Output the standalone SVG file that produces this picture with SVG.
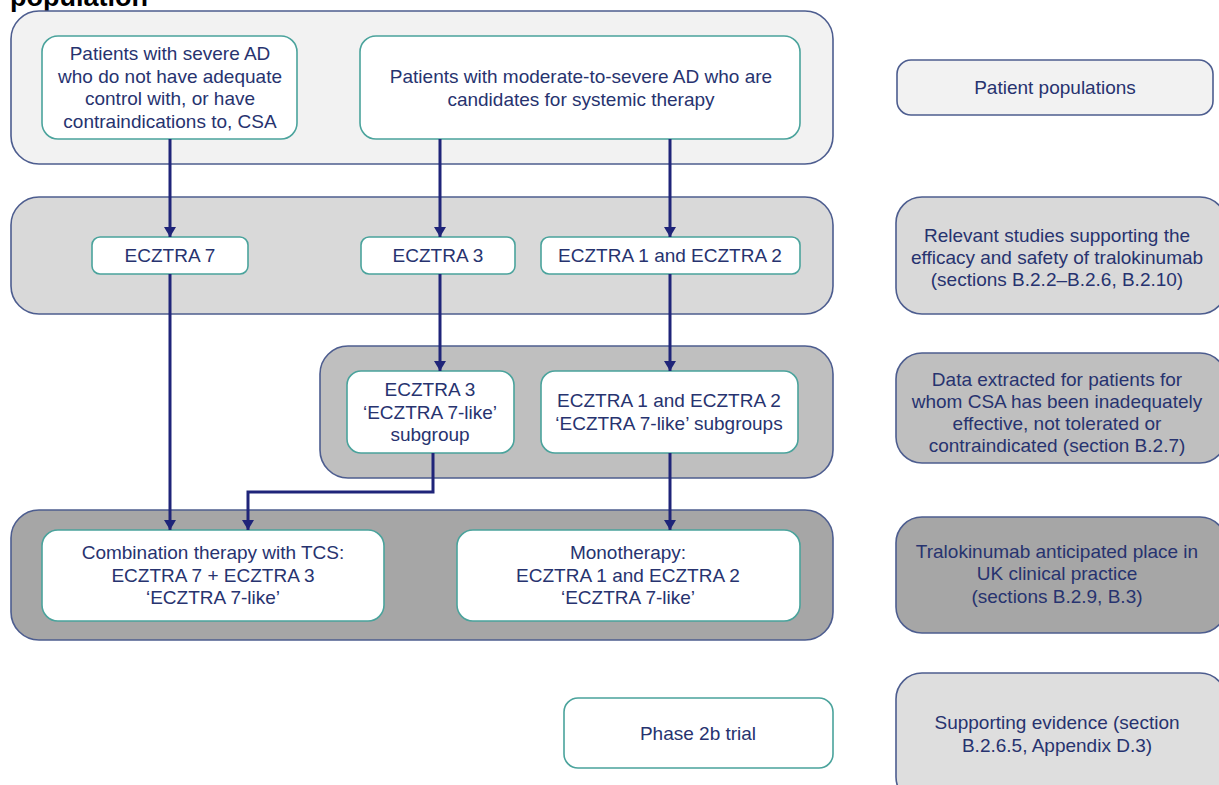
<svg xmlns="http://www.w3.org/2000/svg" width="1219" height="785" viewBox="0 0 1219 785">
<defs>
<style>
.band{stroke:#4d5d8f;stroke-width:1.6}
.b1{fill:#f2f2f2}.b2{fill:#d9d9d9}.b3{fill:#bfbfbf}.b4{fill:#a6a6a6}.b5{fill:#dedede}
.node{fill:#ffffff;stroke:#4aa39c;stroke-width:1.6}
.t{font-family:'Liberation Sans',Arial,sans-serif;font-size:19px;fill:#27336f;text-anchor:middle}
.title{font-family:'Liberation Sans',Arial,sans-serif;font-size:27px;font-weight:bold;fill:#000}
.conn{fill:none;stroke:#1f2479;stroke-width:3}
</style>
<marker id="arr" viewBox="0 0 10 12" refX="10" refY="6" markerWidth="10" markerHeight="12" markerUnits="userSpaceOnUse" orient="auto">
<path d="M0,0 L10,6 L0,12 z" fill="#1f2479"/>
</marker>
</defs>
<rect width="1219" height="785" fill="#ffffff"/>
<text class="title" x="10" y="6">population</text>

<g id="bands">
<rect id="band-populations" class="band b1" x="11" y="11" width="822" height="153" rx="28"/>
<rect id="band-studies" class="band b2" x="11" y="197" width="822" height="117" rx="28"/>
<rect id="band-extracted" class="band b3" x="320" y="346" width="513" height="132" rx="28"/>
<rect id="band-place" class="band b4" x="11" y="510" width="822" height="130" rx="28"/>
</g>

<g id="legend">
<g id="leg-populations"><rect class="band b1" x="897" y="60" width="316" height="55" rx="14"/>
<text class="t" x="1055" y="94">Patient populations</text></g>
<g id="leg-studies"><rect class="band b2" x="896" y="197" width="330" height="117" rx="26"/>
<text class="t" x="1057" y="242">Relevant studies supporting the</text>
<text class="t" x="1057" y="264">efficacy and safety of tralokinumab</text>
<text class="t" x="1057" y="286">(sections B.2.2–B.2.6, B.2.10)</text></g>
<g id="leg-extracted"><rect class="band b3" x="896" y="353" width="330" height="110" rx="26"/>
<text class="t" x="1057" y="386">Data extracted for patients for</text>
<text class="t" x="1057" y="408">whom CSA has been inadequately</text>
<text class="t" x="1057" y="430">effective, not tolerated or</text>
<text class="t" x="1057" y="452">contraindicated (section B.2.7)</text></g>
<g id="leg-place"><rect class="band b4" x="896" y="517" width="330" height="116" rx="26"/>
<text class="t" x="1057" y="558">Tralokinumab anticipated place in</text>
<text class="t" x="1057" y="580">UK clinical practice</text>
<text class="t" x="1057" y="603">(sections B.2.9, B.3)</text></g>
<g id="leg-supporting"><rect class="band b5" x="896" y="673" width="330" height="130" rx="26"/>
<text class="t" x="1057" y="729">Supporting evidence (section</text>
<text class="t" x="1057" y="752">B.2.6.5, Appendix D.3)</text></g>
</g>

<g id="pop-severe"><rect class="node" x="42" y="36" width="255" height="103" rx="16"/>
<text class="t" x="170" y="60">Patients with severe AD</text>
<text class="t" x="170" y="83">who do not have adequate</text>
<text class="t" x="170" y="105">control with, or have</text>
<text class="t" x="170" y="128">contraindications to, CSA</text></g>

<g id="pop-moderate"><rect class="node" x="360" y="36" width="440" height="103" rx="16"/>
<text class="t" x="581" y="83">Patients with moderate-to-severe AD who are</text>
<text class="t" x="581" y="106">candidates for systemic therapy</text></g>

<g id="ecztra7"><rect class="node" x="92" y="237" width="156" height="37" rx="8"/>
<text class="t" x="170" y="262">ECZTRA 7</text></g>
<g id="ecztra3"><rect class="node" x="361" y="237" width="154" height="37" rx="8"/>
<text class="t" x="438" y="262">ECZTRA 3</text></g>
<g id="ecztra12"><rect class="node" x="541" y="237" width="259" height="37" rx="8"/>
<text class="t" x="670" y="262">ECZTRA 1 and ECZTRA 2</text></g>

<g id="sub3"><rect class="node" x="347" y="371" width="167" height="82" rx="14"/>
<text class="t" x="430" y="396">ECZTRA 3</text>
<text class="t" x="430" y="419">‘ECZTRA 7-like’</text>
<text class="t" x="430" y="441">subgroup</text></g>
<g id="sub12"><rect class="node" x="541" y="371" width="257" height="82" rx="14"/>
<text class="t" x="669" y="407">ECZTRA 1 and ECZTRA 2</text>
<text class="t" x="669" y="430">‘ECZTRA 7-like’ subgroups</text></g>

<g id="combo"><rect class="node" x="42" y="530" width="342" height="91" rx="16"/>
<text class="t" x="213" y="559">Combination therapy with TCS:</text>
<text class="t" x="213" y="582">ECZTRA 7 + ECZTRA 3</text>
<text class="t" x="213" y="604">‘ECZTRA 7-like’</text></g>
<g id="mono"><rect class="node" x="457" y="530" width="343" height="91" rx="16"/>
<text class="t" x="628" y="559">Monotherapy:</text>
<text class="t" x="628" y="582">ECZTRA 1 and ECZTRA 2</text>
<text class="t" x="628" y="604">‘ECZTRA 7-like’</text></g>

<g id="phase2b"><rect class="node" x="564" y="698" width="269" height="70" rx="14"/>
<text class="t" x="698" y="740">Phase 2b trial</text></g>

<g id="connectors">
<path class="conn" marker-end="url(#arr)" d="M170,139 V237"/>
<path class="conn" marker-end="url(#arr)" d="M440,139 V237"/>
<path class="conn" marker-end="url(#arr)" d="M670,139 V237"/>
<path class="conn" marker-end="url(#arr)" d="M170,274 V530"/>
<path class="conn" marker-end="url(#arr)" d="M440,274 V371"/>
<path class="conn" marker-end="url(#arr)" d="M670,274 V371"/>
<path class="conn" marker-end="url(#arr)" d="M433,453 V492 H248 V530"/>
<path class="conn" marker-end="url(#arr)" d="M670,453 V530"/>
</g>
</svg>
